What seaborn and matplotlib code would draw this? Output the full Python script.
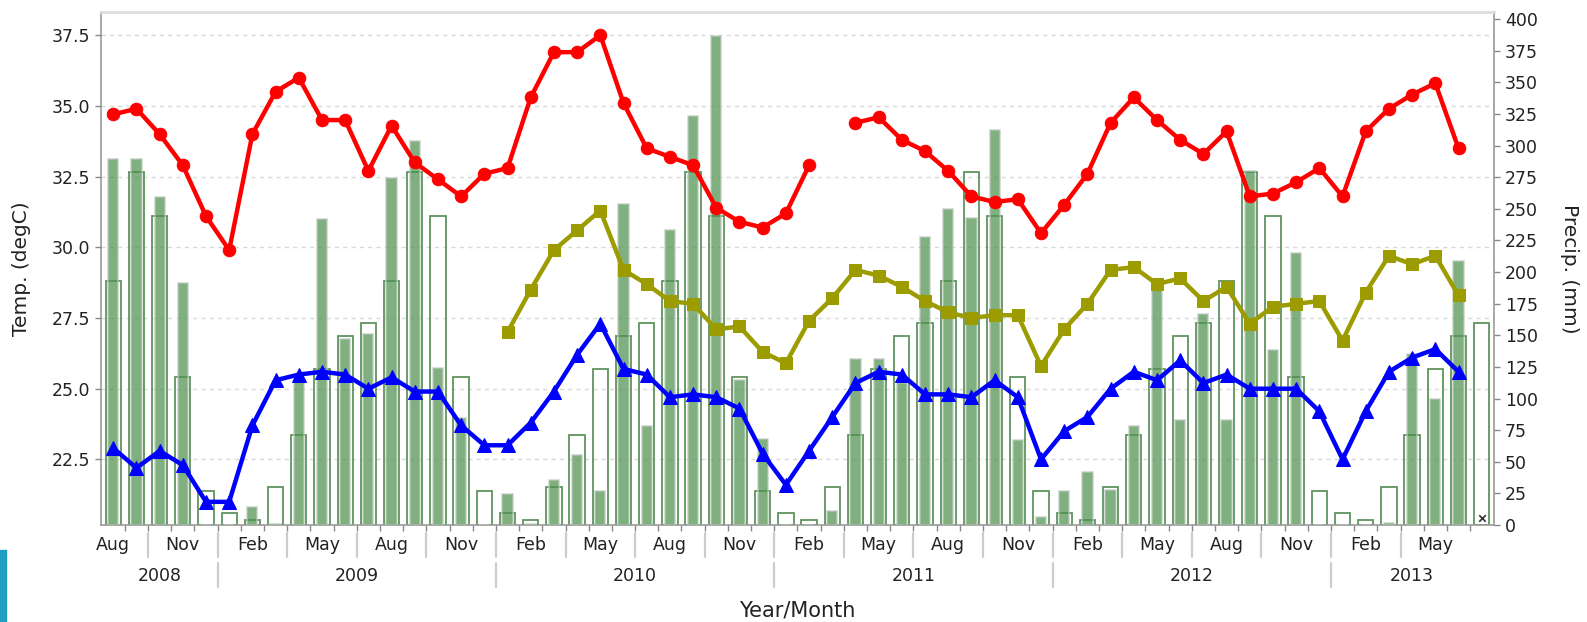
import matplotlib
matplotlib.use("Agg")
import matplotlib.pyplot as plt
import matplotlib.transforms as mtransforms
from matplotlib.patches import Rectangle
import numpy as np
import pandas as pd
import seaborn as sns

nan = np.nan

# monthly records, Aug 2008 .. Jul 2013
months = pd.period_range("2008-08", "2013-07", freq="M")

# max temperature (degC)
t_max = [34.7, 34.9, 34.0, 32.9, 31.1, 29.9, 34.0, 35.5, 36.0, 34.5, 34.5, 32.7,
         34.3, 33.0, 32.4, 31.8, 32.6, 32.8, 35.3, 36.9, 36.9, 37.5, 35.1, 33.5,
         33.2, 32.9, 31.4, 30.9, 30.7, 31.2, 32.9, nan, 34.4, 34.6, 33.8, 33.4,
         32.7, 31.8, 31.6, 31.7, 30.5, 31.5, 32.6, 34.4, 35.3, 34.5, 33.8, 33.3,
         34.1, 31.8, 31.9, 32.3, 32.8, 31.8, 34.1, 34.9, 35.4, 35.8, 33.5, nan]

# mean temperature (degC)
t_mean = [nan, nan, nan, nan, nan, nan, nan, nan, nan, nan, nan, nan,
          nan, nan, nan, nan, nan, 27.0, 28.5, 29.9, 30.6, 31.3, 29.2, 28.7,
          28.1, 28.0, 27.1, 27.2, 26.3, 25.9, 27.4, 28.2, 29.2, 29.0, 28.6, 28.1,
          27.7, 27.5, 27.6, 27.6, 25.8, 27.1, 28.0, 29.2, 29.3, 28.7, 28.9, 28.1,
          28.6, 27.3, 27.9, 28.0, 28.1, 26.7, 28.4, 29.7, 29.4, 29.7, 28.3, nan]

# min temperature (degC)
t_min = [22.9, 22.2, 22.8, 22.3, 21.0, 21.0, 23.7, 25.3, 25.5, 25.6, 25.5, 25.0,
         25.4, 24.9, 24.9, 23.7, 23.0, 23.0, 23.8, 24.9, 26.2, 27.3, 25.7, 25.5,
         24.7, 24.8, 24.7, 24.3, 22.7, 21.6, 22.8, 24.0, 25.2, 25.6, 25.5, 24.8,
         24.8, 24.7, 25.3, 24.7, 22.5, 23.5, 24.0, 25.0, 25.6, 25.3, 26.0, 25.2,
         25.5, 25.0, 25.0, 25.0, 24.2, 22.5, 24.2, 25.6, 26.1, 26.4, 25.6, nan]

# monthly precipitation (mm)
precip = [289, 289, 259, 191, 0, 0, 14.5, 1, 115, 242, 147, 151,
          274, 304, 124, 85, 0, 24.5, 1, 35.5, 55, 27, 254, 78,
          233, 323, 387, 115, 68, 0, 0, 11, 131, 131, 112, 228,
          250, 243, 312, 67, 6.6, 27, 42, 28, 78, 189, 83, 167,
          83, 280, 138, 215, 0, 0, 0, 2, 135, 100, 209, nan]

# normal precipitation by calendar month Jan..Dec (mm)
precip_normal = [9.7, 3.9, 30.3, 71, 123.7, 149.5, 160, 193, 279, 244, 117, 26.8]

df = pd.DataFrame({
    "idx": np.arange(len(months)),
    "t_max": t_max,
    "t_mean": t_mean,
    "t_min": t_min,
    "precip": precip,
    "normal": [precip_normal[m.month - 1] for m in months],
})
df["seg"] = df["t_max"].isna().cumsum()

sns.set_theme(style="white")
plt.rcParams["font.family"] = ["DejaVu Sans"]

fig = plt.figure(figsize=(15.87, 6.22), dpi=100)
axp = fig.add_axes([0.0636, 0.1559, 0.8778, 0.8248])
axt = axp.twinx()

x_lo, x_hi = -0.53, 59.53
t_lo, t_hi = 20.18, 38.32

# grid lines at temperature ticks, behind the bars
t_ticks = np.arange(22.5, 37.6, 2.5)
grid_tr = mtransforms.blended_transform_factory(axp.transAxes, axt.transData)
for t in t_ticks:
    axp.plot([0, 1], [t, t], transform=grid_tr, color="#d8d8d8", lw=1,
             dashes=(3, 3), zorder=0)

# precipitation bars
sns.barplot(data=df, x="idx", y="normal", native_scale=True, orient="x",
            width=0.66, fill=False, color="#5f935f", saturation=1,
            linewidth=1.3, errorbar=None, ax=axp, zorder=2)
sns.barplot(data=df, x="idx", y="precip", native_scale=True, orient="x",
            width=0.44, color="#4f914f", alpha=0.72, saturation=1,
            edgecolor="#bfcabf", linewidth=1.2, errorbar=None, ax=axp, zorder=3)

miss = df[df["precip"].isna()]
off = mtransforms.ScaledTranslation(0, 5 / 72, fig.dpi_scale_trans)
axp.scatter(miss["idx"], np.zeros(len(miss)), marker="x", s=22, color="#333333",
            linewidths=1.2, transform=axp.transData + off, zorder=4, clip_on=False)

# temperature lines
sns.lineplot(data=df, x="idx", y="t_max", units="seg", estimator=None,
             color="#ff0000", lw=3.2, marker="o", markersize=9,
             markeredgecolor="#ff0000", ax=axt)
sns.lineplot(data=df, x="idx", y="t_mean", estimator=None,
             color="#9c9c00", lw=3.2, marker="s", markersize=9,
             markeredgecolor="#9c9c00", ax=axt)
sns.lineplot(data=df, x="idx", y="t_min", estimator=None,
             color="#0000ff", lw=3.2, marker="^", markersize=10,
             markeredgecolor="#0000ff", ax=axt)

axp.set_xlim(x_lo, x_hi)
axp.set_ylim(0, 405.6)
axt.set_ylim(t_lo, t_hi)

# y axes: temperature left, precipitation right
axp.yaxis.tick_right()
axt.yaxis.tick_left()
axt.set_yticks(t_ticks)
axt.set_yticklabels([f"{t:.1f}" for t in t_ticks])
axp.set_yticks(np.arange(0, 401, 25))
for a in (axp, axt):
    a.tick_params(axis="y", length=4, width=1, color="#888888",
                  labelsize=12.5, labelcolor="#222222", pad=4)

axt.set_ylabel("Temp. (degC)", fontsize=14.5, color="#222222", va="center")
axt.yaxis.set_label_coords(-0.057, 0.5)
axp.yaxis.set_label_position("right")
axp.set_ylabel("Precip. (mm)", fontsize=14.5, color="#222222", rotation=270,
               va="center")
axp.yaxis.set_label_coords(1.054, 0.5)

# x axis: month labels every quarter, month boundary ticks
lab_idx = df["idx"][::3]
axp.set_xticks(lab_idx)
axp.set_xticklabels([months[i].strftime("%b") for i in lab_idx])
axp.set_xticks(np.arange(0.5, 59, 1), minor=True)
axp.tick_params(axis="x", which="major", length=0, pad=8, labelsize=12.5,
                labelcolor="#222222")
axp.tick_params(axis="x", which="minor", bottom=True, length=4, width=1,
                color="#888888")
axp.set_xlabel("")
axt.set_xlabel("")

sep_tr = mtransforms.blended_transform_factory(axp.transData, axp.transAxes)
for s in np.arange(1.5, 56, 3):
    axp.plot([s, s], [-0.016, -0.062], transform=sep_tr, color="#cccccc",
             lw=1.6, clip_on=False)

years = sorted(set(m.year for m in months))
for y in years:
    ii = df["idx"][[m.year == y for m in months]]
    a, b = max(ii.min() - 0.5, x_lo), min(ii.max() + 0.5, x_hi)
    axp.text((a + b) / 2, -0.099, str(y), transform=sep_tr, ha="center",
             va="center", fontsize=12.5, color="#222222")
    if ii.min() > 0:
        axp.plot([ii.min() - 0.5] * 2, [-0.074, -0.121], transform=sep_tr,
                 color="#cccccc", lw=1.6, clip_on=False)

axp.text(0.5, -0.166, "Year/Month", transform=axp.transAxes, ha="center",
         va="center", fontsize=15, color="#222222")

for side, sp in axp.spines.items():
    sp.set_color("#999999")
    sp.set_linewidth(1.2)
axp.spines["top"].set_color("#dddddd")
axp.spines["top"].set_linewidth(2)
for sp in axt.spines.values():
    sp.set_visible(False)

fig.add_artist(Rectangle((0, 0), 6 / 1587, 72 / 622, transform=fig.transFigure,
                         color="#1f9ec4", zorder=0))

fig.savefig("out.png", dpi=100)
